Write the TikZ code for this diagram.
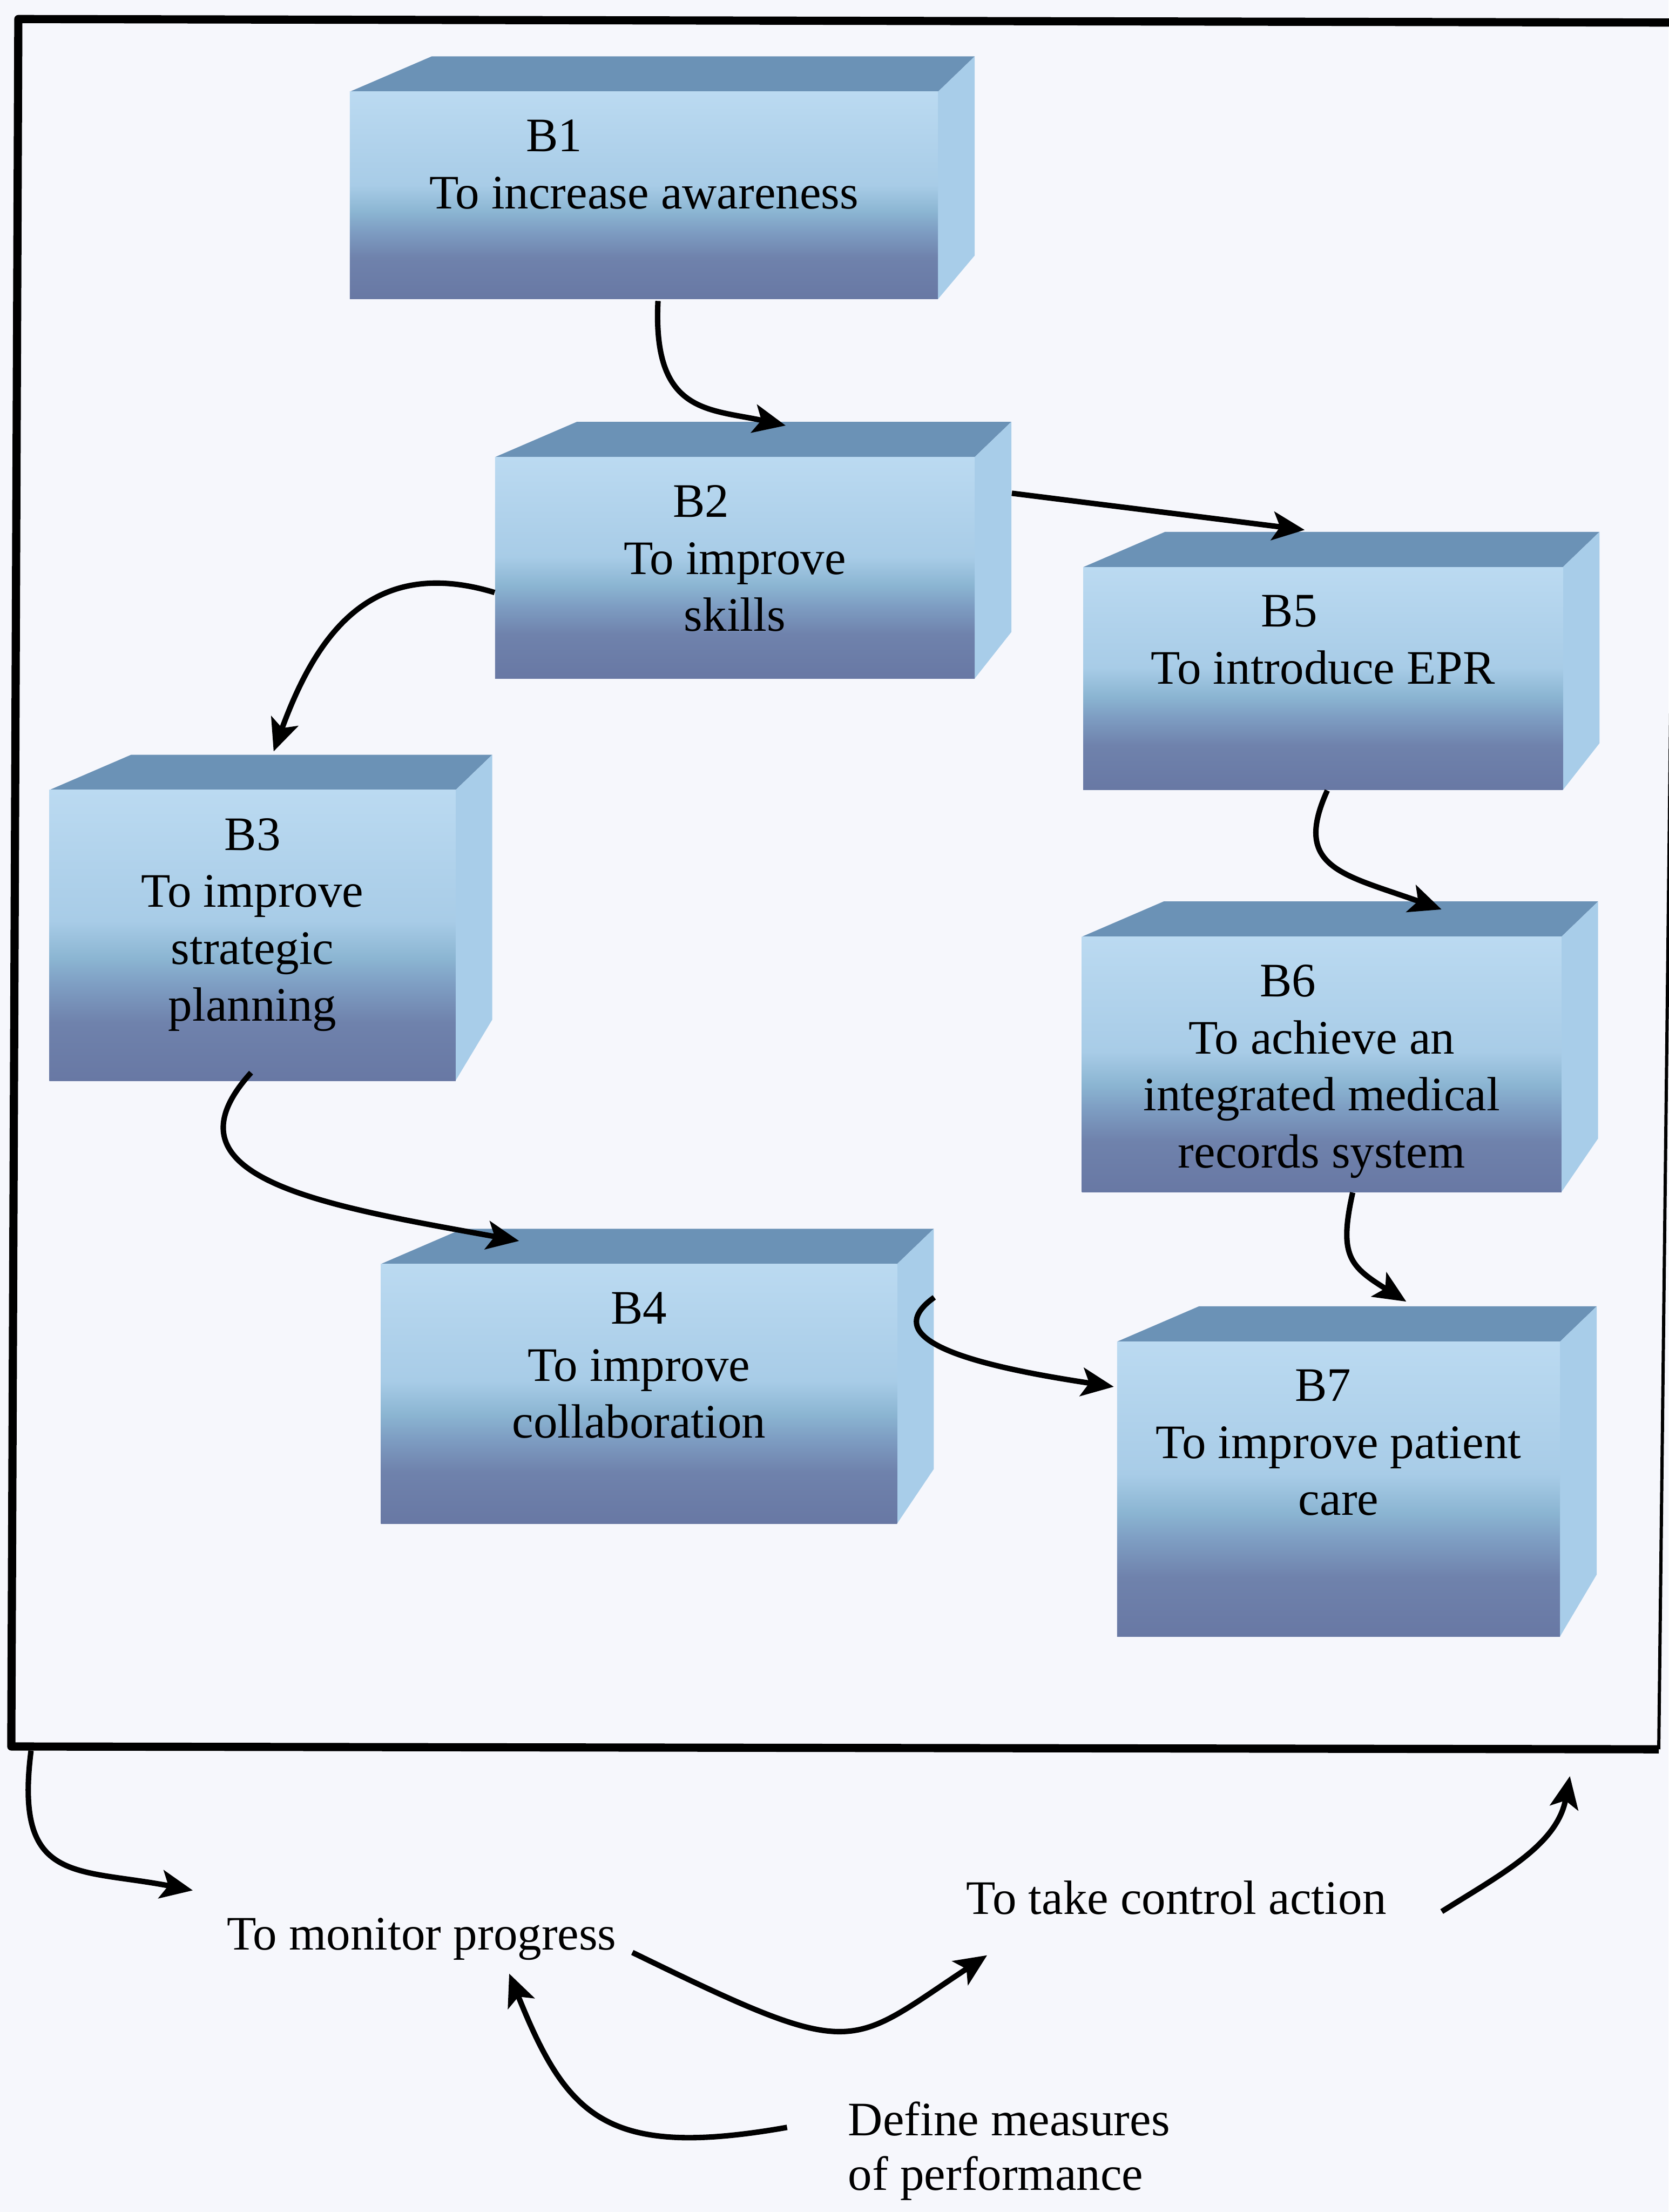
\documentclass[tikz,border=0pt]{standalone}
\usepackage{fontspec}
\setmainfont{Liberation Serif}
\usetikzlibrary{arrows.meta, calc, fit}

\definecolor{pagebg}{HTML}{F6F7FC}
\definecolor{topblue}{HTML}{6B92B6}
\definecolor{sideblue}{HTML}{A8CDE9}
\definecolor{frontA}{HTML}{6878A4}
\definecolor{frontB}{HTML}{6F82AC}
\definecolor{frontC}{HTML}{7E9EC3}
\definecolor{frontD}{HTML}{8BB5D2}
\definecolor{frontE}{HTML}{A8CCE7}
\definecolor{frontF}{HTML}{BBDAF1}

% light top, teal band, dark slate bottom
\pgfdeclareverticalshading{boxfront}{100bp}{color(0bp)=(frontA); color(25bp)=(frontA); color(35bp)=(frontB); color(41.5bp)=(frontC); color(46bp)=(frontD); color(52.5bp)=(frontE); color(75bp)=(frontF); color(100bp)=(frontF)}

% [label shift]{name}{left}{top}{right}{bottom}{label}{text}
\newcommand{\cuboid}[8][0pt]{%
  \fill[topface] (#3,-#4) -- (#5,-#4) -- ({#5+26},{-#4+25}) -- ({#3+58},{-#4+25}) -- cycle;
  \fill[sideface] (#5,-#4) -- ({#5+26},{-#4+25}) -- ({#5+26},{-#6+0.21*(#6-#4)}) -- (#5,-#6) -- cycle;
  \node[frontface, fit={(#3,-#4) (#5,-#6)}] (#2) {};
  \node[boxtext, anchor=north] (#2t) at ([yshift=-0.4cm]#2.north) {\hspace*{#1}#7\\#8};
}

\begin{document}
\begin{tikzpicture}[
  x=0.02cm, y=0.02cm,
  frontface/.style={inner sep=0pt, shade, shading=boxfront},
  topface/.style={fill=topblue},
  sideface/.style={fill=sideblue},
  boxtext/.style={align=center, inner sep=0pt, font=\fontsize{19.4}{23}\selectfont},
  looptext/.style={inner sep=0pt, font=\fontsize{19.4}{22}\selectfont},
  arrow/.style={-{Stealth[length=13pt,width=11.5pt,inset=3pt]}, line width=2.2pt},
  frameline/.style={line width=3.3pt, line join=round}
]
\fill[pagebg] (0,0) rectangle (1183,-1568);
\useasboundingbox (0,0) rectangle (1183,-1568);

% outer frame
\coordinate (frameNW) at (13,-13.5);
\coordinate (frameNE) at (1190,-16);
\coordinate (frameSW) at (8,-1238);
\coordinate (frameSE) at (1176,-1240);
\draw[frameline] (frameNE) -- (frameNW) -- (frameSW) -- (frameSE);
\draw[line width=1.3pt] (frameNE) -- (frameSE);

\cuboid[-2.55cm]{b1}{248}{65}{665}{212}{B1}{To increase awareness}
\cuboid[-0.96cm]{b2}{351}{324}{691}{481}{B2}{To improve\\skills}
\cuboid{b3}{35}{560}{323}{766}{B3}{To improve\\strategic\\planning}
\cuboid{b4}{270}{896}{636}{1080}{B4}{To improve\\collaboration}
\cuboid[-0.96cm]{b5}{768}{402}{1108}{560}{B5}{To introduce EPR}
\cuboid[-0.96cm]{b6}{767}{664}{1107}{845}{B6}{To achieve an\\integrated medical\\records system}
\cuboid[-0.44cm]{b7}{792}{951}{1106}{1160}{B7}{To improve patient\\care}

\draw[arrow] ($(b1.south)+(10,-1)$) .. controls +(-4,-80) and +(-55,12) .. ($(b2.north)+(36,22)$);
\draw[arrow] ($(b2.north east)+(26,-26)$) -- ($(b5.north)+(-13,26)$);
\draw[arrow] ($(b2.west)+(0,-17.5)$) .. controls +(-86,26) and +(31,85) .. ($(b3.north)+(15,27)$);
\draw[arrow] ($(b3.south)+(-1,6)$) .. controls +(-68,-75) and +(-138,25) .. ($(b4.north)+(-85,16)$);
\draw[arrow] ($(b5.south)+(3,0)$) .. controls +(-25,-55) and +(-70,25) .. ($(b6.north)+(85,19)$);
\draw[arrow] ($(b6.south)+(22,0)$) .. controls +(-10,-45) and +(-40,25) .. ($(b7.north)+(48,28)$);
\draw[arrow] ($(b4.north east)+(26,-24)$) .. controls +(-42,-30) and +(-100,15) .. ($(b7.west)+(-2,72.5)$);

\node[looptext, anchor=base] (monitor) at (299,-1382) {To monitor progress};
\node[looptext, anchor=base] (control) at (834,-1357) {To take control action};
\node[looptext, anchor=north west, align=left] (measures) at (601,-1489.4) {Define measures\\of performance};

\draw[arrow] ($(frameSW)+(14,-3)$) .. controls +(-12,-95) and +(-83,16) .. ($(monitor.base west)+(-24,42)$);
\draw[arrow] ($(monitor.base east)+(11,-2)$) .. controls +(160,-78) and +(-100,-66) .. ($(control.base west)+(15,-29)$);
\draw[arrow] ($(control.base east)+(39,2)$) .. controls +(42,26.5) and +(-9,-49) .. ($(frameSE)+(-63,-19)$);
\draw[arrow] ($(measures.north west)+(-43,-18.6)$) .. controls +(-128,-22.6) and +(41,-102) .. ($(monitor.base)+(62,-17)$);
\end{tikzpicture}
\end{document}
